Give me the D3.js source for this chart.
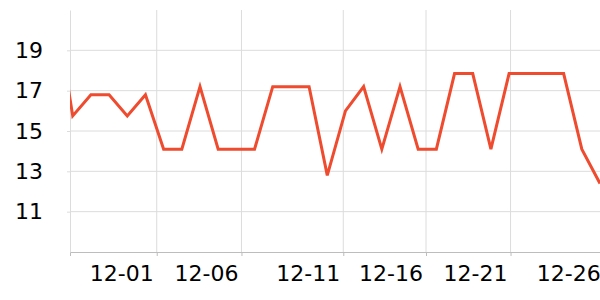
<!DOCTYPE html>
<html>
<head>
<meta charset="utf-8">
<script src="https://cdn.jsdelivr.net/npm/d3@7"></script>
<style>
  body { margin: 0; background: #fff; }
  svg { display: block; }
  svg text { font-family: "DejaVu Sans", sans-serif; }
</style>
</head>
<body>
<div id="chart"></div>
<script>
// day index of each point (first one is clipped on the left edge)
const days = [-1, 0, 1, 2, 3, 4, 5, 6, 7, 8, 9, 10, 11, 12, 13, 14, 15, 16, 17, 18, 19, 20, 21, 22, 23, 24, 25, 26, 27, 28, 29];
const values = [21.4, 15.75, 16.8, 16.8, 15.75, 16.8, 14.1, 14.1, 17.2, 14.1, 14.1, 14.1, 17.2, 17.2, 17.2, 12.8,
  16.0, 17.2, 14.1, 17.2, 14.1, 14.1, 17.85, 17.85, 14.1, 17.85, 17.85, 17.85, 17.85, 14.1, 12.4];
const xTickPos = [-0.15, 4.62, 9.28, 14.88, 19.43, 24.08, 29.2];
const xTickLabels = ["", "12-01", "12-06", "12-11", "12-16", "12-21", "12-26"];
const yTicks = [11, 13, 15, 17, 19];

const width = 600, height = 300;
const margin = {top: 10, right: 0, bottom: 48, left: 70};

const svg = d3.select("#chart").append("svg")
  .attr("width", width)
  .attr("height", height);

const x = d3.scaleLinear()
  .domain([-0.15, 29])
  .range([margin.left, width - margin.right]);
const y = d3.scaleLinear()
  .domain([9, 21])
  .range([height - margin.bottom, margin.top]);

// grid
svg.append("g")
  .selectAll("line.vg")
  .data(xTickPos.slice(1))
  .enter()
  .append("line")
  .attr("x1", d => x(d)).attr("x2", d => x(d))
  .attr("y1", y(21)).attr("y2", y(9))
  .attr("stroke", "#dcdcdc").attr("stroke-width", 1);

svg.append("g")
  .selectAll("line.hg")
  .data(yTicks)
  .enter()
  .append("line")
  .attr("x1", margin.left).attr("x2", width)
  .attr("y1", d => y(d)).attr("y2", d => y(d))
  .attr("stroke", "#dcdcdc").attr("stroke-width", 1);

// axes
const xAxis = svg.append("g")
  .attr("transform", `translate(0,${y(9)})`)
  .call(d3.axisBottom(x).tickValues(xTickPos).tickSize(4).tickSizeOuter(0)
    .tickFormat((d, i) => xTickLabels[i]));
xAxis.attr("font-family", "DejaVu Sans");
xAxis.select(".domain").attr("stroke", "#bdbdbd");
xAxis.selectAll(".tick line").attr("stroke", "#bdbdbd");
xAxis.selectAll(".tick text")
  .attr("font-size", 22).attr("fill", "#000")
  .attr("text-anchor", "end").attr("dx", -3.5).attr("dy", 0).attr("y", 29);

const yAxis = svg.append("g")
  .attr("transform", `translate(${margin.left},0)`)
  .call(d3.axisLeft(y).tickValues(yTicks).tickSize(3).tickSizeOuter(0).tickPadding(24));
yAxis.attr("font-family", "DejaVu Sans");
yAxis.select(".domain").attr("stroke", "#dcdcdc");
yAxis.selectAll(".tick line").attr("stroke", "#dcdcdc");
yAxis.selectAll(".tick text").attr("font-size", 22).attr("fill", "#000");

// line
svg.append("clipPath").attr("id", "clip")
  .append("rect")
  .attr("x", margin.left).attr("y", 0)
  .attr("width", width - margin.left).attr("height", height);

const line = d3.line()
  .x((d, i) => x(days[i]))
  .y(d => y(d));

svg.append("path")
  .datum(values)
  .attr("clip-path", "url(#clip)")
  .attr("fill", "none")
  .attr("stroke", "#ee4b2f")
  .attr("stroke-width", 3)
  .attr("stroke-linejoin", "miter")
  .attr("d", line);
</script>
</body>
</html>
